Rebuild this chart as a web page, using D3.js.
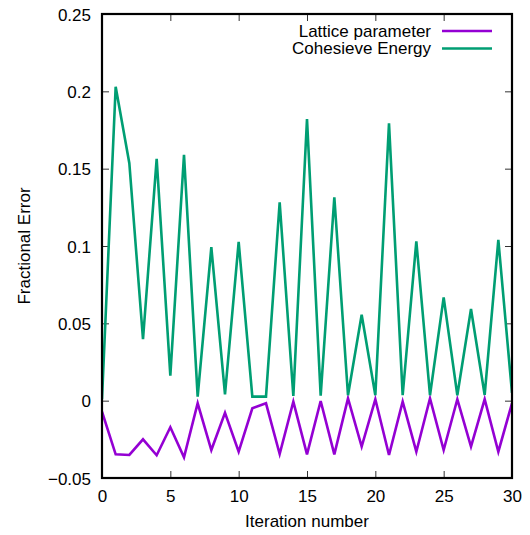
<!DOCTYPE html>
<html>
<head>
<meta charset="utf-8">
<script src="https://cdn.jsdelivr.net/npm/d3@7"></script>
<style>
  html, body { margin: 0; padding: 0; background: #fff; }
  svg { display: block; font-family: "Liberation Sans", Arial, Helvetica, sans-serif; }
</style>
</head>
<body>
<svg id="chart" width="530" height="535"></svg>
<script>
// Iteration index for both series
const iterations = d3.range(0, 31);

// Fractional error of the lattice parameter at each iteration
const latticeParameter = [
  -0.0071, -0.0347, -0.0351, -0.0250, -0.0353, -0.0172, -0.0366, -0.0017,
  -0.0319, -0.0078, -0.0330, -0.0049, -0.0017, -0.0345, -0.0006, -0.0347,
  -0.0002, -0.0347,  0.0015, -0.0297,  0.0009, -0.0351, -0.0006, -0.0330,
   0.0015, -0.0319,  0.0009, -0.0297,  0.0009, -0.0330, -0.0017
];

// Fractional error of the cohesive energy at each iteration
const cohesiveEnergy = [
  0.0010, 0.2030, 0.1535, 0.0397, 0.1563, 0.0162, 0.1589, 0.0026,
  0.0992, 0.0041, 0.1026, 0.0026, 0.0026, 0.1283, 0.0030, 0.1821,
  0.0032, 0.1315, 0.0035, 0.0556, 0.0035, 0.1793, 0.0035, 0.1030,
  0.0035, 0.0668, 0.0035, 0.0593, 0.0037, 0.1039, 0.0050
];

const xTicks = [0, 5, 10, 15, 20, 25, 30];
const yTicks = [-0.05, 0, 0.05, 0.1, 0.15, 0.2, 0.25];

const seriesNames = ["Lattice parameter", "Cohesieve Energy"];
const seriesColors = ["#9400d3", "#009e73"];

const margin = { left: 102, right: 18, top: 14, bottom: 57 };
const W = 530, H = 535;
const svg = d3.select("#chart");

const x = d3.scaleLinear().domain([0, 30]).range([margin.left, W - margin.right]);
const y = d3.scaleLinear().domain([-0.05, 0.25]).range([H - margin.bottom, margin.top]);

const fmt = v => {
  if (Math.abs(v) < 1e-9) return "0";
  const s = d3.format("")(+v.toFixed(2));
  return s.replace("-", "\u2212");
};

const tickLen = 7;
const tickColor = "#333";
const fontSize = 17;

// Axes on all four sides with inward ticks
const bottomAxis = d3.axisBottom(x).tickValues(xTicks).tickSizeInner(-tickLen).tickSizeOuter(0).tickPadding(14).tickFormat(d3.format("d"));
const topAxis = d3.axisTop(x).tickValues(xTicks).tickSizeInner(-tickLen).tickSizeOuter(0).tickFormat("");
const leftAxis = d3.axisLeft(y).tickValues(yTicks).tickSizeInner(-tickLen).tickSizeOuter(0).tickPadding(14).tickFormat(fmt);
const rightAxis = d3.axisRight(y).tickValues(yTicks).tickSizeInner(-tickLen).tickSizeOuter(0).tickFormat("");

function styleAxis(g) {
  g.select(".domain").remove();
  g.selectAll(".tick line").attr("stroke", tickColor).attr("stroke-width", 1);
  g.selectAll(".tick text").attr("fill", "#000").attr("font-size", fontSize)
    .attr("font-family", "\"Liberation Sans\", Arial, sans-serif");
}

svg.append("g").attr("transform", `translate(0,${y(-0.05)})`).call(bottomAxis).call(styleAxis)
  .selectAll(".tick text").attr("dy", "0.71em").attr("y", 12);
svg.append("g").attr("transform", `translate(0,${y(0.25)})`).call(topAxis).call(styleAxis);
svg.append("g").attr("transform", `translate(${x(0)},0)`).call(leftAxis).call(styleAxis)
  .selectAll(".tick text").attr("x", -11).attr("dy", "0.36em");
svg.append("g").attr("transform", `translate(${x(30)},0)`).call(rightAxis).call(styleAxis);

// Data lines, clipped to the plot frame
svg.append("clipPath").attr("id", "plotclip")
  .append("rect")
  .attr("x", x(0)).attr("y", y(0.25))
  .attr("width", x(30) - x(0)).attr("height", y(-0.05) - y(0.25));

const line = d3.line().x(d => x(d[0])).y(d => y(d[1]));
const seriesData = [latticeParameter, cohesiveEnergy];

seriesData.forEach((vals, i) => {
  svg.append("path")
    .datum(iterations.map((it, k) => [it, vals[k]]))
    .attr("clip-path", "url(#plotclip)")
    .attr("fill", "none")
    .attr("stroke", seriesColors[i])
    .attr("stroke-width", 2.6)
    .attr("stroke-linejoin", "miter")
    .attr("d", line);
});

// Plot frame
svg.append("rect")
  .attr("x", x(0)).attr("y", y(0.25))
  .attr("width", x(30) - x(0)).attr("height", y(-0.05) - y(0.25))
  .attr("fill", "none").attr("stroke", "#000").attr("stroke-width", 2.2);

// Legend in the top-right corner
const legend = svg.append("g");
seriesNames.forEach((name, i) => {
  const ly = 31 + i * 17.5;
  legend.append("text")
    .attr("x", 431).attr("y", ly).attr("dy", "0.35em")
    .attr("text-anchor", "end").attr("font-size", fontSize).attr("fill", "#000")
    .text(name);
  legend.append("line")
    .attr("x1", 442).attr("x2", 492).attr("y1", ly).attr("y2", ly)
    .attr("stroke", seriesColors[i]).attr("stroke-width", 2.6);
});

// Axis titles
svg.append("text")
  .attr("x", (x(0) + x(30)) / 2).attr("y", 527)
  .attr("text-anchor", "middle").attr("font-size", fontSize).attr("fill", "#000")
  .text("Iteration number");

svg.append("text")
  .attr("transform", `translate(30,${(y(0.25) + y(-0.05)) / 2}) rotate(-90)`)
  .attr("text-anchor", "middle").attr("font-size", fontSize).attr("fill", "#000")
  .text("Fractional Error");
</script>
</body>
</html>
